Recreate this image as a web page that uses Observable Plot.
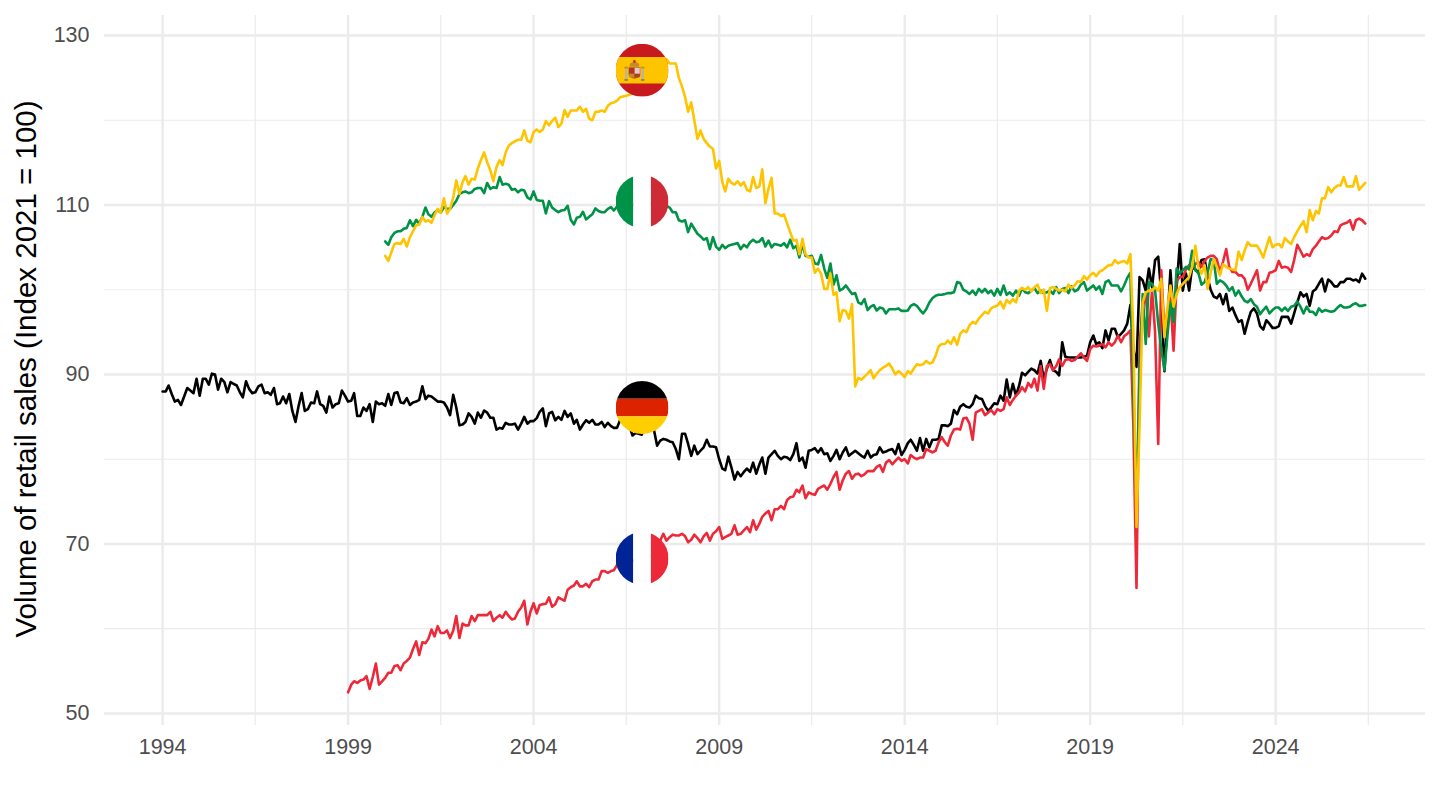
<!DOCTYPE html>
<html>
<head>
<meta charset="utf-8">
<script src="https://cdn.jsdelivr.net/npm/d3@7"></script>
<script src="https://cdn.jsdelivr.net/npm/@observablehq/plot@0.6"></script>
<style>
html,body{margin:0;padding:0;background:#fff;overflow:hidden}
svg{display:block}
</style>
</head>
<body>
<div id="chart"></div>
<script>
// Monthly index values. Germany starts 1994-01, France 1999-01, Italy and Spain 2000-01.
const germany = [
88,88,88.7,87.7,86.8,87,86.4,87.4,88.4,88.1,87.8,89.5,
87.5,89.5,89.5,88.8,90.1,90,88.2,89.5,89.1,87.9,89.1,88.9,
88.7,87.9,87.3,89.2,88.3,87.8,87.9,88.6,88.8,87.8,87.9,87.6,
88.4,86.5,86.6,87.4,86.6,87.7,85.7,84.4,86.3,87.8,85.7,85.9,
86.7,86.6,88,86.5,86.3,85.5,87.4,86.1,86.5,86.6,88.1,87.5,
86.8,86.9,87.8,85.1,85.1,86.1,85.7,86.5,84.4,86.8,86.5,86.6,
86.3,87.7,86.4,87.8,87.9,86.7,86.6,87.2,86.4,86.7,86.8,87,
88.6,87.1,87.5,87.4,87.1,86.8,86.8,86.7,86.1,85.2,
87.6,86.1,
84,84.1,84.4,85.4,85,84.2,85.5,84.9,85.75,85.5,84.9,84.9,
83.5,83.7,83.6,84.3,84.1,84.1,84.2,83.5,84.2,85,84.2,84.5,
84.5,84.85,85.6,86,83.9,85.4,85.6,84.6,85,84.65,85.7,85,
85.4,84.2,84.65,83.5,84.1,84.6,84.3,84.65,84.1,84.1,84.4,83.8,
84.3,83.9,83.7,83.7,84.6,84.4,84.2,83.9,82.8,83.1,83,82.9,
84.5,84.4,84,83.4,81.6,82.2,82.4,82.3,82.1,82,
81.2,80,83,83,81.8,80.4,81.6,80.6,81,81.4,82.3,81.5,
81.5,81.4,80,78.9,78.7,80.3,79.05,77.6,78.5,78,78.5,78.9,
78.5,79.6,78.3,79.4,80.2,78.3,80.2,80.6,81,80.4,80,80.3,
80.2,79.9,80.6,81.9,79.8,80.2,79,81,81.1,81.3,80.8,81.3,
80.6,80.7,79.8,80.4,81.1,80,80.8,81.4,80.4,80.7,81,80.7,
80.4,80.2,81,80.2,80.5,80.6,81.4,80.8,80.9,81.1,81.2,80.6,
81.8,80.5,81.1,81.9,82.3,81.7,81,82.5,81,82.4,81.4,82.3,
82.3,82.4,84,84,83.9,84.2,85.8,85.3,86.2,86.5,86.2,86.1,
86.5,87.5,87.2,87.1,86.3,85.7,86.1,86.6,86.5,87.5,86.9,89.4,
87.3,88.9,87.5,88.7,90.2,89.9,90.3,90.7,90.5,90.1,91.6,89.5,
90.7,91.7,90.5,90.3,89.9,93.8,92.1,92,92,92,92,92,
92.1,92.2,93.8,94.6,93.6,93.8,93.1,95.2,94,95.4,95.4,
94.4,94.8,95.2,96,98.2,93,90.9,101.5,101.1,99.9,102.5,100.3,
103.5,103.9,99.5,90.4,96.4,102.3,96.8,100.3,105.4,99.9,101.9,99.9,
102.7,102.4,102,103.5,103.6,101.5,100,99.2,99,99.5,98.3,99.5,
97.5,97.9,97,96.2,96.4,94.8,96.2,97.4,97.8,97.2,95.7,95.3,
96.4,96,95.5,95.5,95.7,96.8,96.8,96.8,96,97.2,98.5,99.7,
99.2,99.5,98.1,99.8,100.1,100.7,101.3,99.8,101.2,100.9,100.4,100.4,
100.9,100.9,101.3,101.3,101.1,101.2,100.9,101.9,101.3
];
const france = [
52.5,53.4,53.8,53.6,53.9,54,54.4,52.9,54.3,55.9,53.4,53.8,
54.2,54.8,54.8,55.6,55.7,55.1,55.9,56.2,56.6,57.6,58.5,56.9,
58.4,58.3,58.8,59.9,59.1,60.3,59.5,59.5,59.8,58.9,59.8,61.5,
58.9,60.6,60.4,60.4,61.5,60.9,61.6,61.6,61.6,61.6,62,60.9,
61.3,61.6,61.3,62,61.5,61.1,61.2,62,62.5,63.3,60.5,62,
63,61.8,62.8,62.9,62.95,63.7,62.6,62.9,63.7,63.5,63.3,64.6,
64.9,65.1,65.6,65,65,65.3,64.9,65.6,65.8,65.8,66.8,66.8,
66.6,66.8,66.9,67.5,67.4,67.6,67.8,67.9,68,68.1,68.2,68.3,
68.3,68.5,68.7,69,69.3,70.4,71.2,70.4,70.8,71.1,71,
71,71.2,70.9,70.2,70.5,71.1,70.7,70.2,70.9,71.3,70.4,71.2,
71.5,72,70.6,70.8,71,71.2,72.2,71.1,71.2,71.6,72,71.4,
72.8,71.7,72.4,73.2,73.6,73.9,72.8,74.1,74.1,74.5,74.1,75.2,
75.5,75.6,76.4,76.1,76.9,75.4,76.1,75.9,75.8,76.5,76.7,76.9,
76.4,77.1,77.9,78.5,76.4,77.5,78.3,78.6,77.7,78.2,78.3,78,
78.2,78.6,78.6,78.6,79.1,79.3,78.5,79.6,79.9,79.4,79.8,80.2,
79.8,80,79.5,80.5,80.2,80,80.2,80.2,81.2,81,80.8,81,
82,82.6,82,81.6,82.8,83.5,83.6,83.5,84.8,84.9,84.2,82.3,
85.5,85.7,85.9,85.2,85.5,85.8,85.3,85.9,85.7,85.9,87.3,86.4,
87,87.5,87.9,88.5,88,89,88.5,89.5,88.1,91,88.3,91,
91.2,90.5,91,91.8,91,91.7,91.8,91.6,91.7,92.1,92.5,92,
91.6,93,93.4,93.3,93.4,93.6,93.2,93.8,93.4,93.8,94.6,93.8,
94.5,94.8,95.2,84,64.8,93.5,98,99.5,94.5,100,95,81.8,
102.3,95,97.6,99,92.8,101,101.5,101.5,102.4,102.9,102.7,103,
103.3,102.7,103.4,103.8,104,104,103.6,102.1,103.3,104.8,102.7,102.1,
102.1,101.7,101.7,101.3,100,100.7,101.5,102.3,99.9,100.9,100.9,102,
102.1,102.3,103.4,102.6,102.7,102.6,102.1,103.5,105.3,104.6,103.9,104.2,
104,104.8,105.2,105.7,106.2,106,106.1,106.4,106.9,106.8,107.6,107.8,
107.9,108.2,107.1,108.2,108.4,108.2,107.8
];
const italy = [
105.7,105.3,106.2,106.7,106.9,106.9,107.2,107.3,108.2,107.5,108.25,107.8,
108.6,109.7,108.9,108.6,109.1,109.4,109.1,109.75,109.55,109.55,110,110.5,
111.3,111.5,111.6,111.4,111.5,111.9,112,112,111.4,112.6,111.9,112.1,
112,113.3,112.4,112.5,112.4,111.8,111.9,111.5,111.8,111.7,110.9,110.65,
111.6,110.6,110.5,110.5,109,110.45,109.7,109.4,109.15,109.35,109.4,109.9,
108.25,107.7,108.5,108.6,109.2,108.3,108.6,108.9,109.6,109.3,109.15,109.15,
109.55,109.75,109.35,
109.8,110,109.7,110.2,110,109.9,110.2,110.1,110.4,110.4,110.2,110.1,110,110.2,109.8,110,109.9,
109.7,109.15,109.15,108.2,108.05,108.2,106.8,107.8,107.2,106.6,106.3,105.9,
106.1,104.8,106.2,105.1,104.7,105.3,104.9,105.2,105.3,105.4,105.5,104.8,
105.3,105,105.6,105.9,105.6,105.7,106.1,105.1,105.8,105,105.4,105.3,
105.2,105.5,105,105.9,104.9,105.2,103.8,105.4,104,103.9,104,103.1,
103,104.1,102.5,101.4,103.1,100.6,101.7,99.9,100.1,100.5,100,99.5,
99.6,98.5,98.3,98.9,97.6,98,98.2,97.55,97.9,97.8,97.2,97.7,
97.7,97.7,97.8,97.5,97.5,97.55,98.1,98.3,98.1,97.6,97.2,97.7,
98.5,99,99.3,99.4,99.4,99.5,99.6,99.6,99.7,100.9,100.8,100,
99.8,99.5,99.9,99.4,100.1,99.7,100.1,99.6,99.9,99.3,100.1,99.4,
100.5,99.4,99.7,99.3,99.9,99.3,100.2,99.7,99.6,99.9,100.2,99.6,
99.9,99.6,99.7,99.9,99.5,100.3,99.6,100.1,100.2,99.6,100.4,99.8,
100,100.6,100.9,99.9,100.2,100.5,100,100.4,99.5,100.9,101.1,100.5,
100.5,100.5,99.8,100.5,101.4,102,88,75,90,99.5,93.6,100.9,
100.7,99.9,96,93,90.5,94.8,98.5,96.2,102.5,101.9,102.3,102.7,
102.4,104.6,102.3,102,100.6,100.9,102,103.6,103.5,100.7,101.1,100.9,
100.5,99.9,100.3,99.3,99.9,99.2,98.7,98.5,98.9,98.3,98,97.1,
97.6,98,97.2,97.6,97.9,97.9,97.5,97.9,97.5,98,98.1,98.6,
98,97.2,98,97.4,97.4,97,97.8,97.4,97.6,97.5,97.4,97.5,
97.9,98.2,97.9,97.9,98,98.3,98.4,98.1,98.1,98.2
];
const spain = [
104,103.4,104.4,105.4,105.5,105.4,106,105.1,106.2,106.9,107.6,107.7,
108.6,108.05,108.2,107.9,108.8,109.55,109.1,110.8,109,109.55,110.9,112.9,
111.3,112.7,113.4,112.4,113.1,113,114.3,115.3,116.2,115.05,114.1,112.8,
114.5,115.3,114.7,116.2,117,117.3,117.5,117.7,117.7,118.8,117.6,117.4,
118.6,118.9,118.6,118.9,119.9,119.4,119.9,120.3,119.2,119.6,
121.2,120.4,121.15,121.15,121.15,121.6,121,121.35,120.2,120,121,121,
121.15,121,121.7,122,122.1,122.3,122.7,122.8,122.9,123,123.2,123.8,
124.5,125.3,125.9,126,126.2,126.4,126.6,126.3,126.9,127.2,126.7,126.7,
126.7,125,124,122.7,121,122.1,120,117.8,118.8,117.8,117.3,116.9,
116.6,114.3,115.2,112.7,111.6,113.1,112.6,112.4,112.8,112.3,112.7,111.8,
111.6,113.3,112,112.2,114.2,110.2,111.9,113.2,109,109,108.7,108.9,
107.8,106.8,105.8,105.9,104.2,106,104.2,103.8,103.8,102,102.5,101.9,
100.1,100.1,101.9,99.4,99.7,96.3,97.6,97.5,96.6,98.3,88.6,89.6,
89.4,89.75,90.1,90.5,89.55,90.1,90.5,90.8,91,91.3,90.7,90,
90.4,90.1,89.7,90.4,90.1,90.7,91.2,91.1,91.2,91.6,91.3,91.4,
92.2,93.3,93.6,93.6,94,93.6,94.4,93.5,94.8,95.2,95,95.8,
96.2,96,96.6,97,97.4,97.2,97.8,98,98.1,98.6,97.8,98.8,
98.4,98.9,98.5,99.9,100.2,100,100.3,99.8,100.3,100.6,99.6,100,
97.5,100.2,100.3,100.1,99.9,100,99.8,100.6,100.2,100.5,101,100.9,
101.6,101.2,101.7,102,101.6,102.1,102.3,102.6,102.9,102.9,103.5,103.1,
103.3,103.4,103.1,104.2,95,72,84,98.5,99.7,99.9,99.9,100.3,
99.9,101.3,94.4,98,100.5,98,99.5,100.3,100.7,101.1,101.5,102.7,
105.2,102.7,101.9,102.9,100.1,102,103.6,102.7,101.7,103,102.7,102.5,
102.4,102.3,104.5,103.5,104.6,105.6,105.2,105.2,105.2,104.6,103.8,105,
106.2,105,105.3,105.4,105,106.1,105.7,105.4,106.2,106.9,107.5,108.1,
106.8,109.4,108.2,109.3,109,110.8,110.8,112.1,111.5,112,112.3,112.3,
113.3,112.2,112.2,112.2,113.4,111.8,112.2,112.6
];

const seriesNames = ["Germany","France","Italy","Spain"];
const seriesStarts = [1994,1999,2000,2000];
const seriesColors = ["#000000","#ED2939","#009246","#FFC400"];
const seriesValues = [germany,france,italy,spain];

const flagValues = [86.1,68.3,110.4,125.9];
const flagDate = new Date(Date.UTC(2006,11,4));
const flagSvgs = [
 `<rect width="90" height="30" fill="#000"/><rect y="30" width="90" height="30" fill="#DD2200"/><rect y="60" width="90" height="30" fill="#FFCE00"/>`,
 `<rect width="30" height="90" fill="#002395"/><rect x="30" width="30" height="90" fill="#fff"/><rect x="60" width="30" height="90" fill="#ED2939"/>`,
 `<rect width="30" height="90" fill="#009246"/><rect x="30" width="30" height="90" fill="#fff"/><rect x="60" width="30" height="90" fill="#CE2B37"/>`,
 `<rect width="90" height="90" fill="#C8191F"/><rect y="22.5" width="90" height="45" fill="#FFC400"/>
  <rect x="16" y="43" width="4" height="17" fill="#b9b4a6"/><rect x="44" y="43" width="4" height="17" fill="#b9b4a6"/>
  <rect x="15" y="60" width="6" height="3" fill="#8a7f62"/><rect x="43" y="60" width="6" height="3" fill="#8a7f62"/>
  <rect x="15" y="39" width="6" height="3" fill="#c98a2a"/><rect x="43" y="39" width="6" height="3" fill="#c98a2a"/>
  <path d="M22 40h20v14q-10 11-20 0z" fill="#B5651D"/><rect x="32" y="41" width="9" height="10" fill="#E6C9D0"/><rect x="23" y="41" width="9" height="10" fill="#B3341F"/>
  <rect x="23" y="51" width="9" height="6" fill="#C8892A"/><rect x="32" y="51" width="9" height="6" fill="#A8402A"/>
  <path d="M24 39q-1-6 4-7q4-3 8 0q5 1 4 7z" fill="#C8892A"/><rect x="30" y="28" width="4" height="4" fill="#C8191F"/>`
];
const flagUri = s => "data:image/svg+xml;charset=utf-8," + encodeURIComponent(`<svg xmlns="http://www.w3.org/2000/svg" viewBox="0 0 90 90" width="90" height="90">${s}</svg>`);

const majorYears = [1994,1999,2004,2009,2014,2019,2024];
const minorYears = [1996.5,2001.5,2006.5,2011.5,2016.5,2021.5,2026.5];
const majorY = [50,70,90,110,130];
const minorY = [60,80,100,120];

const yearDate = y => new Date(Date.UTC(Math.floor(y), Math.round((y % 1) * 12), 1));
const table = seriesValues.map((vals,s) => vals.map((v,i) => ({date:new Date(Date.UTC(seriesStarts[s], i, 1)), value:v})));
const flags = seriesNames.map((n,i) => ({date:flagDate, value:flagValues[i], src:flagUri(flagSvgs[i])}));

const GRID = "#EBEBEB";
const plot = Plot.plot({
  width:1440, height:810,
  marginLeft:104, marginRight:15, marginTop:15, marginBottom:85,
  style:{fontFamily:"'Liberation Sans',Arial,sans-serif", background:"#fff"},
  x:{type:"utc", domain:[new Date(Date.UTC(1992,5,8)), new Date(Date.UTC(2028,0,15))]},
  y:{domain:[48.58,132.36]},
  marks:[
    Plot.ruleY(minorY,{stroke:GRID,strokeWidth:1.2}),
    Plot.ruleX(minorYears.map(yearDate),{stroke:GRID,strokeWidth:1.2}),
    Plot.ruleY(majorY,{stroke:GRID,strokeWidth:2.4}),
    Plot.ruleX(majorYears.map(yearDate),{stroke:GRID,strokeWidth:2.4}),
    Plot.axisX({ticks:majorYears.map(yearDate),tickSize:0,tickPadding:13,fontSize:21.5,color:"#4D4D4D",label:null,tickFormat:d=>String(d.getUTCFullYear())}),
    Plot.axisY({ticks:majorY,tickSize:0,tickPadding:15,fontSize:21.5,color:"#4D4D4D",label:null}),
    Plot.text(["Volume of retail sales (Index 2021 = 100)"],{frameAnchor:"left",textAnchor:"middle",rotate:-90,dx:-78,dy:-1.5,text:d=>d,fontSize:29.5,fill:"#000"}),
    ...table.map((d,i)=>Plot.line(d,{x:"date",y:"value",stroke:seriesColors[i],strokeWidth:2.6,curve:"linear"})),
    Plot.image(flags,{x:"date",y:"value",src:"src",r:26.5,preserveAspectRatio:"xMidYMid slice"})
  ]
});
document.getElementById("chart").appendChild(plot);
</script>
</body>
</html>
